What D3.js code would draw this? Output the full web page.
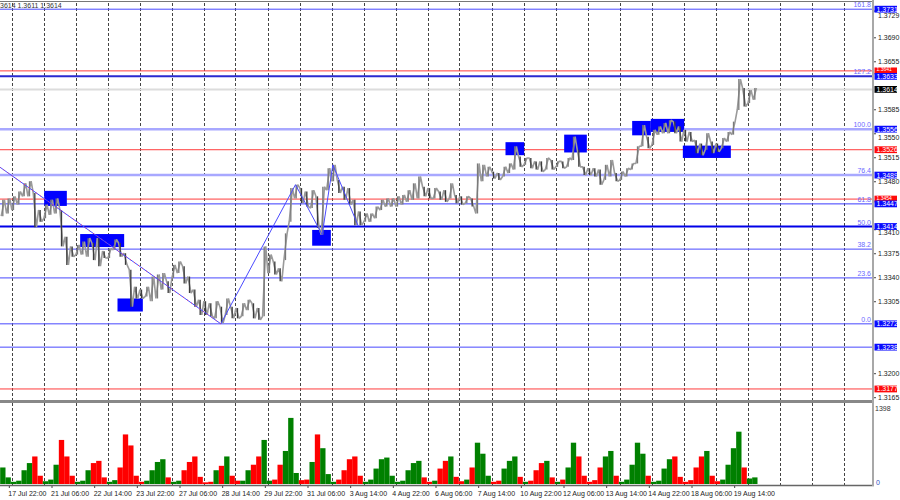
<!DOCTYPE html>
<html><head><meta charset="utf-8">
<script src="https://cdn.jsdelivr.net/npm/d3@7/dist/d3.min.js"></script>
<style>body{margin:0;background:#fff;} svg{display:block;font-family:"Liberation Sans",Arial,sans-serif;}</style>
</head><body><svg id="c" width="900" height="500"></svg>
<script>
// ---- DATA ----
// 4-hour groups of H1 bars; bar index 0 = 20 Jul 00:00, first group starts at bar -8 (17 Jul 16:00)
const firstGroupBar = -8;
const highs = [
 1.3453,1.3455,
 1.3458,1.3465,1.3477,1.3480,1.3463,1.3438,
 1.3446,1.3453,1.3455,1.3438,1.3399,1.3385,
 1.3387,1.3392,1.3397,1.3390,1.3397,1.3378,
 1.3382,1.3395,1.3390,1.3375,1.3351,1.3326,
 1.3322,1.3326,1.3341,1.3344,1.3346,1.3334,
 1.3358,1.3363,1.3356,1.3341,1.3322,1.3307,
 1.3305,1.3302,1.3305,1.3297,1.3309,1.3297,
 1.3295,1.3302,1.3307,1.3302,1.3295,1.3385,
 1.3373,1.3363,1.3353,1.3404,1.3470,1.3475,
 1.3470,1.3465,1.3467,1.3458,1.3472,1.3499,
 1.3504,1.3482,1.3472,1.3470,1.3453,1.3436,
 1.3433,1.3433,1.3443,1.3453,1.3455,1.3455,
 1.3458,1.3460,1.3467,1.3477,1.3487,1.3472,
 1.3470,1.3470,1.3465,1.3467,1.3477,1.3460,
 1.3458,1.3458,1.3455,1.3506,1.3504,1.3501,
 1.3494,1.3492,1.3501,1.3506,1.3531,1.3516,
 1.3514,1.3514,1.3509,1.3509,1.3514,1.3511,
 1.3509,1.3509,1.3514,1.3545,1.3526,1.3501,
 1.3499,1.3499,1.3497,1.3504,1.3511,1.3492,
 1.3494,1.3499,1.3506,1.3531,1.3562,1.3545,
 1.3555,1.3560,1.3565,1.3569,1.3567,1.3560,
 1.3555,1.3552,1.3540,1.3535,1.3550,1.3538,
 1.3535,1.3543,1.3552,1.3567,1.3629,1.3616,
 1.3613,1.3616];
const lows = [
 1.3429,1.3433,
 1.3438,1.3446,1.3458,1.3458,1.3413,1.3421,
 1.3426,1.3431,1.3433,1.3385,1.3358,1.3370,
 1.3373,1.3373,1.3370,1.3365,1.3356,1.3368,
 1.3368,1.3380,1.3370,1.3358,1.3297,1.3309,
 1.3309,1.3312,1.3305,1.3309,1.3322,1.3317,
 1.3339,1.3346,1.3331,1.3317,1.3297,1.3285,
 1.3285,1.3283,1.3280,1.3273,1.3285,1.3280,
 1.3280,1.3283,1.3292,1.3280,1.3278,1.3283,
 1.3346,1.3344,1.3334,1.3365,1.3421,1.3455,
 1.3448,1.3443,1.3441,1.3412,1.3402,1.3467,
 1.3480,1.3463,1.3453,1.3446,1.3416,1.3416,
 1.3421,1.3421,1.3426,1.3438,1.3443,1.3443,
 1.3443,1.3446,1.3450,1.3453,1.3455,1.3458,
 1.3455,1.3455,1.3453,1.3450,1.3455,1.3448,
 1.3446,1.3448,1.3443,1.3433,1.3480,1.3487,
 1.3484,1.3482,1.3487,1.3492,1.3497,1.3501,
 1.3504,1.3499,1.3497,1.3494,1.3497,1.3497,
 1.3501,1.3499,1.3501,1.3511,1.3501,1.3489,
 1.3489,1.3487,1.3475,1.3482,1.3487,1.3480,
 1.3482,1.3487,1.3497,1.3506,1.3531,1.3528,
 1.3533,1.3548,1.3550,1.3550,1.3550,1.3538,
 1.3538,1.3538,1.3521,1.3518,1.3526,1.3521,
 1.3523,1.3528,1.3538,1.3548,1.3584,1.3589,
 1.3594,1.3599];
const volumes = [
 300,120,
 40,60,250,380,500,150,
 50,80,350,800,500,150,
 40,60,250,380,420,120,
 40,70,300,900,700,150,
 40,60,250,400,450,120,
 40,60,250,400,500,130,
 30,40,250,330,500,150,
 60,60,250,350,500,800,
 60,80,350,600,1200,200,
 70,80,400,900,650,180,
 40,80,250,450,500,150,
 40,80,280,450,480,150,
 40,60,250,380,420,120,
 40,60,280,420,500,130,
 50,80,300,750,550,150,
 40,60,280,420,500,130,
 40,60,250,380,420,120,
 40,80,300,750,500,150,
 40,70,300,500,600,150,
 40,80,350,750,550,150,
 40,60,280,450,500,130,
 40,70,300,500,600,150,
 50,80,350,650,950,300,
 100,120];
const volumeMax = 1398;
const timeLabels = ["17 Jul 22:00","21 Jul 06:00","22 Jul 14:00","23 Jul 22:00","27 Jul 06:00","28 Jul 14:00","29 Jul 22:00","31 Jul 06:00","3 Aug 14:00","4 Aug 22:00","6 Aug 06:00","7 Aug 14:00","10 Aug 22:00","12 Aug 06:00","13 Aug 14:00","14 Aug 22:00","18 Aug 06:00","19 Aug 14:00"];
const timeLabelBars = [-2,30,62,94,126,158,190,222,254,286,318,350,382,414,446,478,510,542];
const dayStartBars = [0,24,48,72,96,120,144,168,192,216,240,264,288,312,336,360,384,408,432,456,480,504,528,552,576,600,624];
const priceTicks = [1.3729,1.3690,1.3655,1.3585,1.3550,1.3515,1.3480,1.3410,1.3375,1.3340,1.3305,1.3200,1.3165];
const fibLabels = ["161.8","127.2","100.0","76.4","61.8","50.0","38.2","23.6","0.0"];
const fibPrices = [1.3731,1.3633,1.3556,1.3489,1.3447,1.3414,1.3381,1.3339,1.3272];
const redLevels = [1.3641,1.3526,1.3454,1.3177];
const blueLevels = [1.3238];
const currentPrice = 1.3614;
const tagPrices = [1.3731,1.3641,1.3633,1.3614,1.3556,1.3526,1.3489,1.3454,1.3447,1.3414,1.3272,1.3238,1.3177];
const tagKinds  = ["b","r","b","k","b","r","b","r","b","b","b","b","r"];
const zigzagBars = [-9,157,213,233,241,260];
const zigzagPrices = [1.3501,1.3272,1.3475,1.3402,1.3504,1.3415];
const boxStart = [25,52,80,226,371,415,466,480,504];
const boxEnd   = [41,84,98,239,384,431,479,504,539];
const boxTop   = [1.3466,1.3403,1.3309,1.3409,1.3537,1.3548,1.3568,1.3571,1.3532];
const boxBottom= [1.3444,1.3384,1.3290,1.3386,1.3518,1.3522,1.3547,1.3552,1.3514];
const headerText = "3614 1.3611 1.3614";

// ---- SCALES ----
const svg = d3.select("#c");
const W = 873;
const x = d3.scaleLinear().domain([0,648]).range([11.5,11.5+648*4/3]);
const y = d3.scaleLinear().domain([1.3200,1.3690]).range([373.2,37.3]);
const yv = d3.scaleLinear().domain([0,volumeMax]).range([484,407]);
const bw = 4/3;

svg.append("defs").append("clipPath").attr("id","mc").append("rect").attr("x",0).attr("y",2).attr("width",W).attr("height",398);

// vertical grid
svg.append("g").selectAll("line").data(dayStartBars).join("line")
  .attr("x1",d=>Math.round(x(d))+0.5).attr("x2",d=>Math.round(x(d))+0.5)
  .attr("y1",3).attr("y2",485).attr("stroke","#444").attr("stroke-width",1).attr("stroke-dasharray","3,2");

const lv = svg.append("g").attr("clip-path","url(#mc)");
function hline(p, color, w){
  lv.append("line").attr("x1",0).attr("x2",W).attr("y1",y(p)).attr("y2",y(p)).attr("stroke",color).attr("stroke-width",w);
}
const fibStyles = [["#4848ff",1],["#2a2ad0",2],["#a8a8ff",2.5],["#a8a8ff",2.5],["#3a3aff",1],["#0000e8",2],["#4848ff",1],["#4848ff",1],["#4848ff",1]];
hline(currentPrice,"#dcdcdc",2);
redLevels.forEach(p=>hline(p,"#ff3c3c",1));
blueLevels.forEach(p=>hline(p,"#4848ff",1));
fibPrices.forEach((p,i)=>hline(p,fibStyles[i][0],fibStyles[i][1]));
lv.selectAll("text.fib").data(fibPrices).join("text").attr("class","fib")
  .attr("x",871).attr("y",d=>y(d)-2).attr("text-anchor","end")
  .attr("font-size",7).attr("fill","#6a6aff").text((d,i)=>fibLabels[i]);

// boxes
lv.selectAll("rect.box").data(boxStart).join("rect").attr("class","box")
  .attr("x",(d,i)=>x(d)-bw/2).attr("width",(d,i)=>x(boxEnd[i])-x(d)+bw)
  .attr("y",(d,i)=>y(boxTop[i])).attr("height",(d,i)=>y(boxBottom[i])-y(boxTop[i]))
  .attr("fill","#0000ff");

// price bars: each 4h range drawn as an up/down stroke pair plus range line
const mids = highs.map((h,i)=>(h+lows[i])/2);
const up = mids.map((m,i)=> i===0 || m>=mids[i-1]);
const pts = [];
highs.forEach((h,i)=>{
  const b0 = firstGroupBar+4*i;
  if(up[i]){ pts.push([x(b0+0.3),y(lows[i])]); pts.push([x(b0+2.7),y(h)]); }
  else { pts.push([x(b0+0.3),y(h)]); pts.push([x(b0+2.7),y(lows[i])]); }
});
lv.append("path").attr("d",d3.line()(pts)).attr("fill","none").attr("stroke","#9a9a9a").attr("stroke-width",1.6).attr("stroke-linejoin","bevel");
lv.selectAll("line.rng").data(highs).join("line").attr("class","rng")
  .attr("x1",(d,i)=>x(firstGroupBar+4*i+1.5)).attr("x2",(d,i)=>x(firstGroupBar+4*i+1.5))
  .attr("y1",d=>y(d)).attr("y2",(d,i)=>y(lows[i]))
  .attr("stroke",(d,i)=>up[i]?"#7a7a7a":"#3c3c3c").attr("stroke-width",1.3);

// zigzag
const zz = zigzagBars.map((b,i)=>[x(b),y(zigzagPrices[i])]);
lv.append("path").attr("d",d3.line()(zz)).attr("fill","none").attr("stroke","#4a4aff").attr("stroke-width",1);
lv.append("path").attr("d",d3.line()(zz.slice(0,2))).attr("fill","none").attr("stroke","#ff3c6a").attr("stroke-width",1).attr("stroke-dasharray","1,4");

// volumes
svg.append("g").selectAll("rect").data(volumes).join("rect")
  .attr("x",(d,i)=>x(firstGroupBar+4*i)-bw/2).attr("width",4*bw)
  .attr("y",d=>yv(d)).attr("height",d=>484-yv(d)).attr("fill",(d,i)=>up[i]?"#008000":"#ff0000");

// frame lines
svg.append("line").attr("x1",0).attr("x2",W).attr("y1",1.5).attr("y2",1.5).attr("stroke","#777").attr("stroke-width",1);
svg.append("rect").attr("x",0).attr("y",400).attr("width",W).attr("height",3).attr("fill","#888");
svg.append("line").attr("x1",0).attr("x2",W+1).attr("y1",485.5).attr("y2",485.5).attr("stroke","#666").attr("stroke-width",1.5);
svg.append("rect").attr("x",872).attr("y",0).attr("width",2).attr("height",486).attr("fill","#a8a8a8");

// right price axis
const ax = svg.append("g").attr("transform","translate(874,0)")
  .call(d3.axisRight(y).tickValues(priceTicks).tickFormat(d3.format(".4f")).tickSize(2).tickPadding(2));
ax.select(".domain").remove();
ax.selectAll("text").attr("font-size",7).attr("fill","#222").attr("font-family","Liberation Sans, Arial, sans-serif");
ax.selectAll(".tick").filter(d=>d===1.3729).select("text").attr("dy","0.95em");
ax.selectAll(".tick").filter(d=>d===1.3410).select("text").attr("dy","0.75em");
ax.selectAll(".tick").filter(d=>d===1.3550).select("text").attr("dy","0.85em");
ax.selectAll("line").attr("stroke","#444");

// tags
const tagFill = {b:"#0a0aff", r:"#ff0a0a", k:"#000000"};
const tg = svg.append("g");
tagPrices.forEach((p,i)=>{
  const cy = y(p);
  const hidden = tagKinds[i]==="r" && tagPrices.some((q,j)=>j!==i && tagKinds[j]==="b" && Math.abs(y(q)-cy)<6);
  tg.append("rect").attr("x",874.5).attr("y",cy-3.4).attr("width",22.5).attr("height",6.8).attr("fill",tagFill[tagKinds[i]]);
  tg.append("text").attr("x",876.5).attr("y",hidden?cy+0.5:cy+2.5).attr("font-size",hidden?5:7).attr("fill","#fff").text(d3.format(".4f")(p));
});

// volume axis labels
svg.append("text").attr("x",875).attr("y",410.5).attr("font-size",7).attr("fill","#333").text(String(volumeMax));
svg.append("text").attr("x",876).attr("y",484.5).attr("font-size",7).attr("fill","#3050c0").text("0");

// time axis
const tx = svg.append("g").attr("transform","translate(0,486)")
  .call(d3.axisBottom(x).tickValues(timeLabelBars).tickFormat((d,i)=>timeLabels[i]).tickSize(2).tickPadding(3));
tx.select(".domain").remove();
tx.selectAll("text").attr("font-size",7).attr("fill","#222").attr("text-anchor","start").attr("dx",-1).attr("font-family","Liberation Sans, Arial, sans-serif");
tx.selectAll("line").attr("stroke","#444");

// header
svg.append("text").attr("x",0).attr("y",8).attr("font-size",7).attr("fill","#333").text(headerText);
</script></body></html>
